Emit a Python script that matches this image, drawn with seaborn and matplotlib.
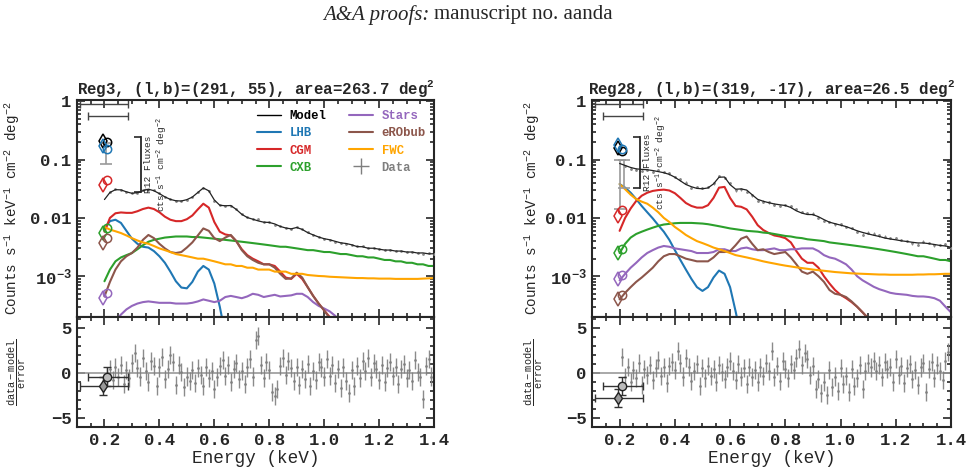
import numpy as np
import pandas as pd
import seaborn as sns
import matplotlib.pyplot as plt
from matplotlib.lines import Line2D
from matplotlib.ticker import (FixedLocator, FixedFormatter, LogLocator,
                               MultipleLocator, NullFormatter, FormatStrFormatter)

# energy grids (keV)
energy = np.round(np.arange(0.20, 1.4001, 0.02), 2)
res_energy = np.round(np.arange(0.21, 1.4001, 0.01), 2)

# ---------------- Reg3 components (counts s-1 keV-1 cm-2 deg-2) ----------------
lhb3 = [0.0065, 0.0088, 0.0093, 0.0082, 0.0060, 0.0044, 0.0036, 0.0032, 0.0031, 0.0027,
        0.0022, 0.0017, 0.0012, 0.00082, 0.00064, 0.00062, 0.00080, 0.00120, 0.00150, 0.00130,
        0.00075, 0.00030, 0.00010, 0.00004, 0.00002]
cgm3 = [0.0058, 0.0100, 0.0120, 0.0124, 0.0122, 0.0122, 0.0130, 0.0142, 0.0150, 0.0142,
        0.0125, 0.0105, 0.0093, 0.0088, 0.0088, 0.0095, 0.0110, 0.0140, 0.0175, 0.0150,
        0.0085, 0.0058, 0.0052, 0.0050, 0.0040, 0.0029, 0.0023, 0.0020, 0.0018, 0.0016,
        0.0016, 0.0015, 0.0012, 0.00095, 0.00090, 0.00110, 0.00090, 0.00065, 0.00046, 0.00034,
        0.00026, 0.00020, 0.00015, 0.00011, 0.00008, 0.00006]
cxb3 = [0.00082, 0.0013, 0.0018, 0.0021, 0.0023, 0.0025, 0.0029, 0.0034, 0.0039, 0.0042,
        0.0044, 0.0046, 0.0047, 0.0048, 0.0048, 0.0048, 0.0047, 0.0047, 0.0046, 0.0045,
        0.0044, 0.0043, 0.0042, 0.0041, 0.0040, 0.0039, 0.0038, 0.0037, 0.0036, 0.0035,
        0.0034, 0.0033, 0.0032, 0.0032, 0.0031, 0.0030, 0.0029, 0.0028, 0.0028, 0.0027,
        0.0026, 0.0026, 0.0025, 0.0024, 0.0024, 0.0023, 0.0022, 0.0022, 0.0021, 0.0021,
        0.0020, 0.0019, 0.0019, 0.0018, 0.0018, 0.0017, 0.0017, 0.0016, 0.0016, 0.0015,
        0.0015]
stars3 = [0.00008, 0.00012, 0.00017, 0.00022, 0.00027, 0.00031, 0.00034, 0.00036, 0.00037, 0.00036,
          0.00035, 0.00035, 0.00035, 0.00034, 0.00034, 0.00034, 0.00035, 0.00037, 0.00040, 0.00038,
          0.00036, 0.00038, 0.00044, 0.00046, 0.00044, 0.00042, 0.00045, 0.00050, 0.00048, 0.00044,
          0.00046, 0.00048, 0.00045, 0.00046, 0.00047, 0.00050, 0.00050, 0.00044, 0.00036, 0.00031,
          0.00028, 0.00025, 0.00021, 0.00017, 0.00014, 0.00011, 0.00009, 0.00007]
bub3 = [0.00045, 0.00080, 0.0013, 0.0018, 0.0022, 0.0025, 0.0031, 0.0042, 0.0051, 0.0045,
        0.0036, 0.0030, 0.0026, 0.0025, 0.0026, 0.0031, 0.0038, 0.0050, 0.0066, 0.0060,
        0.0045, 0.0040, 0.0046, 0.0051, 0.0040, 0.0028, 0.0022, 0.0019, 0.0017, 0.0016,
        0.0016, 0.0014, 0.0011, 0.00090, 0.00092, 0.00115, 0.00095, 0.00065, 0.00046, 0.00034,
        0.00026, 0.00019, 0.00014, 0.00010, 0.00007, 0.00005]
fwc3 = [0.0070, 0.0063, 0.0059, 0.0055, 0.0050, 0.0045, 0.0041, 0.0038, 0.0036, 0.0033,
        0.0030, 0.0028, 0.0026, 0.0024, 0.0023, 0.0022, 0.0021, 0.0020, 0.0020, 0.0019,
        0.0018, 0.0017, 0.0016, 0.0016, 0.0015, 0.0015, 0.0014, 0.0014, 0.0013, 0.0013,
        0.0013, 0.0012, 0.0012, 0.0012, 0.0011, 0.0011, 0.0011, 0.00105, 0.00103, 0.00101,
        0.00100, 0.00098, 0.00097, 0.00096, 0.00095, 0.00094, 0.00093, 0.00093, 0.00092, 0.00092,
        0.00091, 0.00091, 0.00091, 0.00090, 0.00090, 0.00090, 0.00090, 0.00090, 0.00091, 0.00092,
        0.00093]

# ---------------- Reg28 components ----------------
lhb28 = [0.038, 0.033, 0.027, 0.021, 0.016, 0.0125, 0.0098, 0.0075, 0.0058, 0.0042,
         0.0028, 0.0019, 0.0013, 0.00090, 0.00065, 0.00056, 0.00065, 0.00095, 0.00125, 0.00110,
         0.00065, 0.00025, 0.00009, 0.00003, 0.00001]
cgm28 = [0.0060, 0.0100, 0.0145, 0.0195, 0.0240, 0.0270, 0.0290, 0.0300, 0.0305, 0.0295,
         0.0265, 0.0220, 0.0180, 0.0160, 0.0150, 0.0150, 0.0165, 0.0220, 0.0330, 0.0340,
         0.0220, 0.0160, 0.0155, 0.0140, 0.0105, 0.0075, 0.0062, 0.0055, 0.0050, 0.0048,
         0.0045, 0.0038, 0.0027, 0.0020, 0.0017, 0.0017, 0.0014, 0.0010, 0.00075, 0.00058,
         0.00048, 0.00042, 0.00036, 0.00030, 0.00024, 0.00019, 0.00015, 0.00012, 0.00009, 0.00007,
         0.00005]
cxb28 = [0.0025, 0.0036, 0.0046, 0.0053, 0.0058, 0.0063, 0.0068, 0.0073, 0.0077, 0.0079,
         0.0081, 0.0082, 0.0082, 0.0082, 0.0081, 0.0080, 0.0078, 0.0075, 0.0072, 0.0069,
         0.0066, 0.0064, 0.0062, 0.0060, 0.0059, 0.0058, 0.0056, 0.0055, 0.0053, 0.0051,
         0.0049, 0.0048, 0.0046, 0.0045, 0.0043, 0.0042, 0.0041, 0.0040, 0.0038, 0.0037,
         0.0036, 0.0035, 0.0034, 0.0033, 0.0032, 0.0031, 0.0030, 0.0029, 0.0028, 0.0027,
         0.0026, 0.0025, 0.0024, 0.0023, 0.0022, 0.0022, 0.0021, 0.0020, 0.0019, 0.0019,
         0.0018]
stars28 = [0.00085, 0.0011, 0.0014, 0.0017, 0.0021, 0.0025, 0.0028, 0.0031, 0.0033, 0.0032,
           0.0030, 0.0029, 0.0028, 0.0027, 0.0025, 0.0025, 0.0025, 0.0026, 0.0029, 0.0029,
           0.0027, 0.0027, 0.0030, 0.0031, 0.0029, 0.0028, 0.0028, 0.0029, 0.0030, 0.0028,
           0.0028, 0.0029, 0.0029, 0.0030, 0.0030, 0.0030, 0.0027, 0.0023, 0.0021, 0.0020,
           0.0018, 0.0016, 0.0013, 0.0010, 0.00085, 0.00075, 0.00066, 0.00060, 0.00056, 0.00052,
           0.00050, 0.00049, 0.00048, 0.00046, 0.00045, 0.00045, 0.00044, 0.00042, 0.00038, 0.00030,
           0.00024]
bub28 = [0.00040, 0.00052, 0.00065, 0.00080, 0.00095, 0.00115, 0.0014, 0.0018, 0.0022, 0.0024,
         0.0024, 0.0022, 0.0020, 0.0019, 0.0018, 0.0018, 0.0018, 0.0021, 0.0026, 0.0026,
         0.0027, 0.0034, 0.0044, 0.0048, 0.0036, 0.0028, 0.0029, 0.0026, 0.0024, 0.0025,
         0.0026, 0.0021, 0.0016, 0.0012, 0.0011, 0.0012, 0.0010, 0.00080, 0.00058, 0.00050,
         0.00048, 0.00044, 0.00037, 0.00030, 0.00024, 0.00019, 0.00015, 0.00012]
fwc28 = [0.038, 0.031, 0.025, 0.021, 0.019, 0.0175, 0.0150, 0.0125, 0.0100, 0.0085,
         0.0070, 0.0060, 0.0051, 0.0045, 0.0040, 0.0037, 0.0034, 0.0031, 0.0029, 0.0027,
         0.0025, 0.0023, 0.0022, 0.0021, 0.0020, 0.0019, 0.00180, 0.00172, 0.00165, 0.00158,
         0.00152, 0.00147, 0.00142, 0.00138, 0.00134, 0.00130, 0.00127, 0.00124, 0.00121, 0.00118,
         0.00116, 0.00114, 0.00112, 0.00111, 0.00110, 0.00109, 0.00108, 0.00107, 0.00107, 0.00106,
         0.00106, 0.00106, 0.00106, 0.00106, 0.00107, 0.00107, 0.00108, 0.00108, 0.00109, 0.00110,
         0.00110]

# ---------------- residuals (data-model)/error, 0.21..1.40 keV ----------------
resid3 = [-0.3, 0.4, -0.8, 0.6, -0.5, 0.9, -1.2, 0.3, -0.6, 1.1,
          2.2, 0.5, -0.4, 1.6, 0.2, -1.0, 1.3, 0.8, -1.5, 0.6,
          1.8, -0.7, 0.4, 2.0, 1.2, -1.3, 0.9, 0.1, -1.6, -0.4,
          -0.9, 0.3, -1.1, 0.5, -0.2, -1.4, 0.7, -0.6, 0.2, -1.8,
          -0.5, 0.8, 1.4, -0.3, 0.9, -1.0, 0.4, 1.1, -0.7, 0.2,
          -1.2, 0.6, 1.5, -0.4, 3.6, 4.1, 0.9, -0.6, 1.2, 0.3,
          -2.1, -2.6, -1.8, 0.8, 1.6, -0.2, 1.3, 0.5, -0.9, 0.7,
          -1.3, 0.4, -0.7, 1.0, -1.5, 0.2, -0.8, 1.2, 0.6, -0.4,
          1.5, -0.3, 0.9, -1.1, 0.4, -1.7, 0.6, -0.9, -2.2, 0.3,
          -1.4, 0.8, -0.6, 1.3, 0.2, 1.7, -0.5, 1.1, 0.4, -0.8,
          0.9, -1.0, 0.5, 1.2, -0.3, 0.7, -1.2, 0.4, 1.0, -0.6,
          0.3, -0.9, 1.4, 0.1, -0.5, -2.9, 0.8, 1.5, -0.4, 0.6]
resid28 = [1.8, -0.5, 0.7, -1.0, 0.3, -0.6, 1.1, -1.3, 0.4, -0.2,
           0.9, -0.8, 0.5, 1.4, -0.3, 0.6, -1.1, 0.8, 1.2, 0.3,
           2.4, 1.1, -0.4, 1.6, 0.7, -0.9, 0.2, 1.0, -1.4, 0.5,
           -0.6, 0.8, -0.3, 0.4, -1.0, 0.9, 0.1, -0.7, 0.6, 1.3,
           0.2, -0.8, 1.0, -0.4, 0.5, -1.2, 0.7, -0.5, 0.3, -1.0,
           0.6, -0.3, 1.1, 0.2, 2.4, -0.5, 0.8, -0.9, 1.3, 0.4,
           -0.6, 1.0, 0.3, 1.6, 2.7, 0.9, 2.2, 1.5, -0.2, 0.8,
           -1.8, -0.7, -2.2, -1.0, -2.5, 0.3, -1.6, -0.4, -2.0, 0.5,
           -1.2, -0.3, -2.1, 0.4, -1.5, -0.6, 0.9, -1.8, 0.2, 1.1,
           0.6, 1.3, 0.2, 0.9, -0.5, 1.2, 0.4, 0.7, -1.0, 1.5,
           -0.2, 0.8, -1.1, 0.5, 1.0, -0.7, 0.3, -1.3, 0.6, 1.1,
           -2.1, 0.4, 1.2, -0.6, 0.9, 0.2, -0.8, 1.3, 2.3, -0.4]

# ---------------- R12 band fluxes ----------------
r12_names = ["Model", "LHB", "CGM", "CXB", "Stars", "eRObub"]
r12_x = [0.195, 0.21]            # diamond / circle energies
r12_xlo = [0.11, 0.14]
r12_xhi = [0.285, 0.285]
r12_bar_y = [0.9, 0.55]
r12_diam3 = [0.21, 0.17, 0.036, 0.0055, 0.00043, 0.0037]
r12_circ3 = [0.20, 0.15, 0.044, 0.0066, 0.00052, 0.0046]
r12_diam28 = [0.16, 0.18, 0.0107, 0.0025, 0.00088, 0.00040]
r12_circ28 = [0.14, 0.15, 0.0139, 0.0029, 0.00105, 0.00048]
r12_res3 = [-1.5, -0.4]
r12_res28 = [-2.8, -1.45]
obs3 = {"x": [0.205], "lo": [0.085], "hi": [0.19]}
obs28 = {"x": [0.2, 0.215], "lo": [0.014, 0.032], "hi": [0.1, 0.1]}

colors = {"Model": "black", "LHB": "#1f77b4", "CGM": "#d62728", "CXB": "#2ca02c",
          "Stars": "#9467bd", "eRObub": "#8c564b", "FWC": "orange", "Data": "#7f7f7f"}

sns.set_theme(style="ticks")
plt.rcParams["font.family"] = ["Liberation Mono", "DejaVu Sans"]
plt.rcParams["font.weight"] = "bold"
plt.rcParams["mathtext.default"] = "regular"
plt.rcParams["axes.linewidth"] = 1.5


def model_sum(comps):
    tot = np.zeros(len(energy))
    for v in comps.values():
        tot[:len(v)] += np.asarray(v)
    return tot


def style_axes(ax):
    ax.set_xlim(0.1, 1.4)
    ax.xaxis.set_major_locator(FixedLocator([0.2, 0.4, 0.6, 0.8, 1.0, 1.2, 1.4]))
    ax.xaxis.set_major_formatter(FormatStrFormatter("%.1f"))
    ax.xaxis.set_minor_locator(MultipleLocator(0.05))
    ax.tick_params(which="both", direction="in", top=True, right=True, width=1.2,
                   labelsize=12.5, pad=4)
    ax.tick_params(which="major", length=6)
    ax.tick_params(which="minor", length=3)
    for s in ax.spines.values():
        s.set_linewidth(1.5)


def draw_panel(ax, axr, comps, resid, rel_err, r12_d, r12_c, r12_res, obs,
               title, bracket, label_x, res_label_x):
    model = model_sum(comps)
    frames = [pd.DataFrame({"energy": energy[:len(v)], "flux": v, "comp": k})
              for k, v in comps.items()]
    df = pd.concat(frames, ignore_index=True)
    sns.lineplot(data=df, x="energy", y="flux", hue="comp", palette=colors,
                 lw=1.5, legend=False, estimator=None, sort=False, ax=ax)
    data = model[1:] * (1 + rel_err * np.asarray(resid)[1::2])
    ax.errorbar(energy[1:], data, yerr=model[1:] * rel_err, fmt=".", ms=2,
                color="#888888", elinewidth=0.8, zorder=3)
    sns.lineplot(x=energy, y=model, color="#222222", lw=0.9, ax=ax, zorder=4)

    # R12 band points
    for name, d, c in zip(r12_names, r12_d, r12_c):
        ax.plot(r12_x[0], d, marker="d", ms=7, mfc="none", mec=colors[name], mew=1.1, zorder=5)
        ax.plot(r12_x[1], c, marker="o", ms=6, mfc="none", mec=colors[name], mew=1.1, zorder=5)
    xerr = [np.subtract(r12_x, r12_xlo), np.subtract(r12_xhi, r12_x)]
    ax.errorbar(r12_x, r12_bar_y, xerr=xerr, fmt="none", ecolor="#444444",
                elinewidth=1, capsize=3)
    ax.errorbar(obs["x"], obs["hi"], yerr=[np.subtract(obs["hi"], obs["lo"]), np.zeros(len(obs["x"]))],
                fmt="none", ecolor="#999999", elinewidth=1.2, capsize=4, capthick=1.2)

    # R12 flux axis bracket
    ins = ax.inset_axes(bracket)
    ins.patch.set_visible(False)
    for side in ["left", "top", "bottom"]:
        ins.spines[side].set_visible(False)
    ins.spines["right"].set_linewidth(1.3)
    ins.set_xticks([])
    ins.set_ylim(0, 1)
    ins.yaxis.tick_right()
    ins.set_yticks([0, 1])
    ins.tick_params(axis="y", direction="in", length=5, width=1.2, labelright=False)
    ins.yaxis.set_label_position("right")
    ins.set_ylabel("R12 Fluxes\ncts s$^{-1}$ cm$^{-2}$ deg$^{-2}$", fontsize=6.8,
                   fontweight="normal", labelpad=2)

    ax.set_yscale("log")
    ax.set_ylim(2e-4, 1.05)
    ax.yaxis.set_major_locator(FixedLocator([1e-3, 1e-2, 0.1, 1]))
    ax.yaxis.set_major_formatter(FixedFormatter(["$10^{-3}$", "0.01", "0.1", "1"]))
    ax.yaxis.set_minor_locator(LogLocator(base=10, subs=np.arange(2, 10)))
    ax.yaxis.set_minor_formatter(NullFormatter())
    ax.set_xlabel("")
    ax.set_ylabel("Counts s$^{-1}$ keV$^{-1}$ cm$^{-2}$ deg$^{-2}$", fontsize=10.3)
    ax.yaxis.set_label_coords(label_x, 0.5)
    ax.set_title(title, fontsize=11.3, fontweight="bold", pad=4)
    style_axes(ax)
    ax.tick_params(labelbottom=False)

    # residuals
    axr.axhline(0, color="#999999", lw=1.2, zorder=1)
    axr.errorbar(res_energy, resid, yerr=1, fmt=".", ms=2, color="#7f7f7f",
                 elinewidth=1, alpha=0.9, zorder=2)
    rxerr = [[r12_x[0] - r12_xlo[0]], [r12_xhi[0] - r12_x[0]]]
    axr.errorbar([r12_x[0]], [r12_res[0]], xerr=rxerr, yerr=1, fmt="d", ms=6,
                 mfc="#999999", mec="#222222", ecolor="#333333", elinewidth=1, capsize=3, zorder=4)
    rxerr = [[r12_x[1] - r12_xlo[1]], [r12_xhi[1] - r12_x[1]]]
    axr.errorbar([r12_x[1]], [r12_res[1]], xerr=rxerr, yerr=1, fmt="o", ms=6,
                 mfc="#bbbbbb", mec="#222222", ecolor="#333333", elinewidth=1, capsize=3, zorder=4)
    axr.set_ylim(-6, 6.2)
    axr.yaxis.set_major_locator(MultipleLocator(5))
    axr.yaxis.set_minor_locator(MultipleLocator(1))
    axr.set_xlabel("Energy (keV)", fontsize=12.8, labelpad=2)
    axr.set_ylabel(r"$\frac{data-model}{error}$", fontsize=10.5)
    axr.yaxis.set_label_coords(res_label_x, 0.5)
    style_axes(axr)


fig = plt.figure(figsize=(9.72, 4.73), dpi=100)
W, H = 972, 473
axL = fig.add_axes([77 / W, 1 - 317 / H, 357 / W, 217 / H])
axLr = fig.add_axes([77 / W, 1 - 427 / H, 357 / W, 110 / H])
axR = fig.add_axes([592 / W, 1 - 317 / H, 359 / W, 217 / H])
axRr = fig.add_axes([592 / W, 1 - 427 / H, 359 / W, 110 / H])

comps3 = {"LHB": lhb3, "CGM": cgm3, "CXB": cxb3, "Stars": stars3, "eRObub": bub3, "FWC": fwc3}
comps28 = {"LHB": lhb28, "CGM": cgm28, "CXB": cxb28, "Stars": stars28, "eRObub": bub28, "FWC": fwc28}

draw_panel(axL, axLr, comps3, resid3, 0.015, r12_diam3, r12_circ3, r12_res3, obs3,
           "Reg3, (l,b)=(291, 55), area=263.7 deg$^2$", [0.169, 0.576, 0.01, 0.253],
           -0.155, -0.135)
draw_panel(axR, axRr, comps28, resid28, 0.05, r12_diam28, r12_circ28, r12_res28, obs28,
           "Reg28, (l,b)=(319, -17), area=26.5 deg$^2$", [0.124, 0.594, 0.01, 0.235],
           -0.139, -0.128)

# legend (left panel only)
leg_names = ["Model", "LHB", "CGM", "CXB", "Stars", "eRObub", "FWC", "Data"]
handles = [Line2D([], [], color=colors[n], lw=1.5) for n in leg_names[:-1]]
handles[0] = Line2D([], [], color="black", lw=1.0)
handles.append(Line2D([], [], color=colors["Data"], marker="+", ls="none", ms=11, mew=1))
leg = axL.legend(handles, leg_names, ncol=2, frameon=False, loc="upper left",
                 bbox_to_anchor=(0.49, 0.975), fontsize=8.8, handlelength=2.0,
                 handletextpad=0.7, columnspacing=1.8, labelspacing=0.42, borderaxespad=0)
for txt, n in zip(leg.get_texts(), leg_names):
    txt.set_color(colors[n])

# page header
fig.text(429.5 / W, 1 - 15 / H, "A&A proofs:", family=["Liberation Serif"], style="italic",
         fontweight="normal", fontsize=15, ha="right", va="center")
fig.text(434 / W, 1 - 15 / H, "manuscript no. aanda", family=["Liberation Serif"],
         fontweight="normal", fontsize=15, ha="left", va="center")

fig.savefig("out.png", dpi=100)
